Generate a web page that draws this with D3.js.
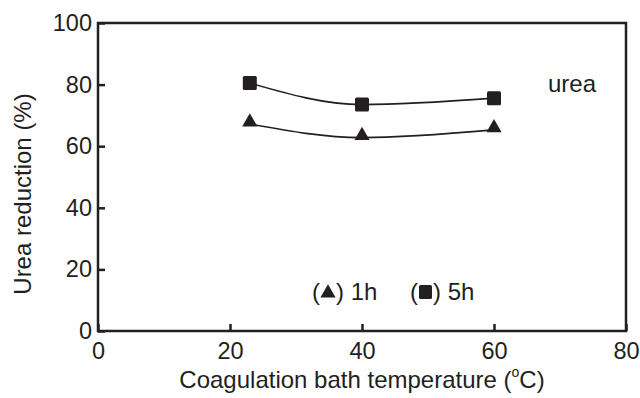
<!DOCTYPE html>
<html>
<head>
<meta charset="utf-8">
<script src="https://cdn.jsdelivr.net/npm/d3@7"></script>
<style>
  body { margin: 0; background: #fff; }
  text { font-family: "Liberation Sans", Arial, sans-serif; fill: #231f20; }
</style>
</head>
<body>
<div id="chart"></div>
<script>
// data
const temps = [23, 40, 60];
const urea1h = [67.2, 62.8, 65.3];
const urea5h = [80.5, 73.5, 75.6];
const xTicks = [0, 20, 40, 60, 80];
const yTicks = [0, 20, 40, 60, 80, 100];

const width = 640, height = 398;
const margin = {top: 23, right: 14, bottom: 67, left: 98};
const ink = "#231f20";

const svg = d3.select("#chart").append("svg")
  .attr("width", width)
  .attr("height", height);

const x = d3.scaleLinear().domain([0, 80]).range([margin.left, width - margin.right]);
const y = d3.scaleLinear().domain([0, 100]).range([height - margin.bottom, margin.top]);

// x axis, ticks pointing inward
const gx = svg.append("g")
  .attr("transform", "translate(0," + y(0) + ")")
  .call(d3.axisBottom(x).tickValues(xTicks).tickSize(-7).tickPadding(11).tickFormat(d3.format("d")));
gx.select(".domain").remove();
gx.selectAll("line").attr("stroke", ink).attr("stroke-width", 2.5);
gx.selectAll("text").attr("font-size", 23.5).attr("fill", ink);

// y axis
const gy = svg.append("g")
  .attr("transform", "translate(" + x(0) + ",0)")
  .call(d3.axisLeft(y).tickValues(yTicks).tickSize(-7).tickPadding(6).tickFormat(d3.format("d")));
gy.select(".domain").remove();
gy.selectAll("line").attr("stroke", ink).attr("stroke-width", 2.5);
gy.selectAll("text").attr("font-size", 23.5).attr("fill", ink);

// frame
svg.append("rect")
  .attr("x", x(0)).attr("y", y(100))
  .attr("width", x(80) - x(0)).attr("height", y(0) - y(100))
  .attr("fill", "none").attr("stroke", ink).attr("stroke-width", 2.5);

const line = d3.line()
  .x((d, i) => x(temps[i]))
  .y(d => y(d))
  .curve(d3.curveMonotoneX);

[urea1h, urea5h].forEach(s => {
  svg.append("path")
    .attr("d", line(s))
    .attr("fill", "none")
    .attr("stroke", ink)
    .attr("stroke-width", 1.6);
});

const tri = d3.symbol().type(d3.symbolTriangle).size(100);
svg.selectAll(".tri").data(urea1h).enter().append("path")
  .attr("d", tri)
  .attr("transform", (d, i) => "translate(" + x(temps[i]) + "," + (y(d) - 2) + ")")
  .attr("fill", ink);

svg.selectAll(".sq").data(urea5h).enter().append("rect")
  .attr("x", (d, i) => x(temps[i]) - 7)
  .attr("y", d => y(d) - 7)
  .attr("width", 14).attr("height", 14)
  .attr("rx", 1.5)
  .attr("fill", ink);

// labels
svg.append("text")
  .attr("x", 548).attr("y", 92)
  .attr("font-size", 24)
  .text("urea");

const leg = svg.append("g").attr("font-size", 24);
leg.append("text").attr("x", 312).attr("y", 300).text("(");
leg.append("path").attr("d", tri).attr("transform", "translate(328,293)").attr("fill", ink);
leg.append("text").attr("x", 336).attr("y", 300).text(") 1h");
leg.append("text").attr("x", 410).attr("y", 300).text("(");
leg.append("rect").attr("x", 419).attr("y", 285).attr("width", 13).attr("height", 14).attr("rx", 1.5).attr("fill", ink);
leg.append("text").attr("x", 433).attr("y", 300).text(") 5h");

const xt = svg.append("text")
  .attr("x", 362).attr("y", 388)
  .attr("text-anchor", "middle")
  .attr("font-size", 24);
xt.append("tspan").text("Coagulation bath temperature (");
xt.append("tspan").attr("font-size", 14).attr("dy", -11).text("o");
xt.append("tspan").attr("dy", 11).text("C)");

svg.append("text")
  .attr("transform", "translate(31,194) rotate(-90)")
  .attr("text-anchor", "middle")
  .attr("font-size", 24)
  .text("Urea reduction (%)");
</script>
</body>
</html>
